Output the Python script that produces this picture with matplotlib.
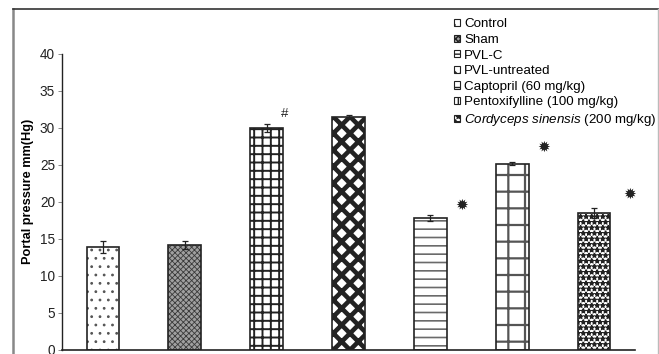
import numpy as np
import matplotlib
matplotlib.use("Agg")
import matplotlib.pyplot as plt
from matplotlib.lines import Line2D

plt.rcParams['font.family'] = ['Liberation Sans', 'DejaVu Sans']
plt.rcParams['mathtext.fontset'] = 'custom'
plt.rcParams['mathtext.it'] = 'Liberation Sans:italic'
plt.rcParams['mathtext.rm'] = 'Liberation Sans'

groups = ["Control", "Sham", "PVL-C", "PVL-untreated", "Captopril (60 mg/kg)",
          "Pentoxifylline (100 mg/kg)", r"$\it{Cordyceps}$ $\it{sinensis}$ (200 mg/kg)"]
pressure = [13.9, 14.2, 30.0, 31.5, 17.8, 25.2, 18.5]
sem = [0.8, 0.5, 0.5, 0.2, 0.4, 0.2, 0.7]
marks = ["", "", "#", "", "\u2739", "\u2739", "\u2739"]

# gap above the error bar for each mark, and sideways shift
mark_gap = [0, 0, 1.4, 0, 1.3, 2.0, 1.9]
mark_dx = [0, 0, 0.22, 0, 0.38, 0.38, 0.43]

# fill style per bar: (face, hatch, hatch colour, hatch linewidth)
styles = [
    ("white", "..", "#555555", 0.8),
    ("#a0a0a0", "xxxxxx", "#3a3a3a", 0.6),
    ("white", "++", "#222222", 1.4),
    ("white", "xx", "#222222", 3.3),
    ("white", "--", "#6a6a6a", 1.2),
    ("white", "+", "#555555", 1.6),
    ("white", "***", "#222222", 1.0),
]

fig = plt.figure(figsize=(6.59, 3.54), dpi=100)
ax = fig.add_axes([0.0941, 0.0113, 0.8695, 0.8362])

x = np.arange(len(groups))
w = 0.4
handles = []
for i in range(len(groups)):
    face, hatch, hcol, hlw = styles[i]
    with plt.rc_context({'hatch.linewidth': hlw}):
        b = ax.bar(x[i], pressure[i], w, color=face, edgecolor=hcol,
                   hatch=hatch, linewidth=0, zorder=2)
        for p in b:
            if hasattr(p, "set_hatch_linewidth"):
                p.set_hatch_linewidth(hlw)
    ax.bar(x[i], pressure[i], w, facecolor="none", edgecolor="#222222",
           linewidth=1.2, zorder=3)
    handles.append(b[0])

ax.errorbar(x, pressure, yerr=sem, fmt="none", ecolor="#222222",
            elinewidth=0.9, capsize=2.5, capthick=0.9, zorder=4)

for i, m in enumerate(marks):
    if not m:
        continue
    y = pressure[i] + sem[i] + mark_gap[i]
    if m == "#":
        ax.text(x[i] + mark_dx[i], y, m, ha="center", va="center",
                fontsize=9.5, color="#222222")
    else:
        ax.text(x[i] + mark_dx[i], y, m, ha="center", va="center",
                fontsize=11, color="#222222", family="DejaVu Sans")

ax.set_xlim(-0.5, len(groups) - 0.5)
ax.set_ylim(0, 40)
ax.set_yticks(range(0, 41, 5))
ax.set_xticks([])
ax.tick_params(axis="y", length=3, width=0.6, color="#777777",
               labelsize=9.8, labelcolor="#222222", pad=2)
for s in ["top", "right"]:
    ax.spines[s].set_visible(False)
ax.spines["left"].set_color("#222222")
ax.spines["bottom"].set_color("#222222")
ax.spines["left"].set_linewidth(1.0)
ax.spines["bottom"].set_linewidth(1.2)
ax.set_ylabel("Portal pressure mm(Hg)", fontsize=9.2, fontweight="bold")
ax.yaxis.set_label_coords(-0.049, 0.535)

leg = fig.legend(handles, groups, loc="upper left",
                 bbox_to_anchor=(0.679, 0.967), frameon=False, fontsize=9.6,
                 handlelength=0.45, handleheight=0.45, handletextpad=0.3,
                 labelspacing=0.27, borderpad=0)
for h in leg.legend_handles:
    h.set_edgecolor("#222222")
    h.set_linewidth(0.8)

# outer chart frame
fig.add_artist(Line2D([13 / 659, 13 / 659], [0, 1 - 9 / 354],
                      transform=fig.transFigure, color="#888888", lw=1.8))
fig.add_artist(Line2D([13 / 659, 1], [1 - 9 / 354, 1 - 9 / 354],
                      transform=fig.transFigure, color="#333333", lw=1.2))
fig.add_artist(Line2D([658 / 659, 658 / 659], [0, 1 - 9 / 354],
                      transform=fig.transFigure, color="#bbbbbb", lw=1.0))

fig.savefig("out.png", dpi=100)
